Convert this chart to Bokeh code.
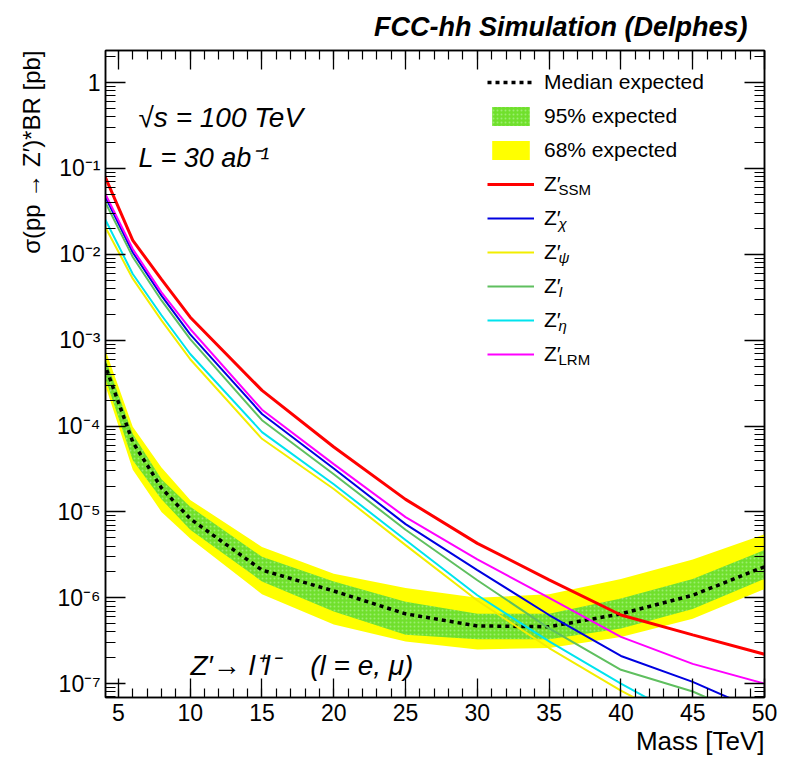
from bokeh.plotting import figure
from bokeh.models import (Range1d, LinearAxis, LogAxis, FixedTicker, SingleIntervalTicker,
                          CustomJSTickFormatter, Legend, LegendItem, Label, Title)
from bokeh.embed import file_html
from bokeh.resources import INLINE

# ---------------- data ----------------
mass = [4, 6, 8, 10, 15, 20, 25, 30, 35, 40, 45, 50]

median_exp = [5.5e-4, 6.5e-5, 1.9e-5, 8.3e-6, 2.1e-6, 1.2e-6, 6.5e-7, 4.7e-7, 4.6e-7, 6.5e-7, 1.07e-6, 2.3e-6]
band_inner_up = [6.7e-4, 8.1e-5, 2.4e-5, 1.15e-5, 3.0e-6, 1.55e-6, 9.0e-7, 6.5e-7, 6.5e-7, 9.8e-7, 1.66e-6, 3.6e-6]
band_inner_lo = [4.0e-4, 4.0e-5, 1.4e-5, 6.2e-6, 1.55e-6, 6.9e-7, 3.7e-7, 3.3e-7, 3.3e-7, 4.4e-7, 7.4e-7, 1.66e-6]
band_outer_up = [8.5e-4, 9.8e-5, 3.3e-5, 1.38e-5, 3.9e-6, 1.9e-6, 1.3e-6, 1.0e-6, 1.1e-6, 1.66e-6, 2.8e-6, 5.5e-6]
band_outer_lo = [3.3e-4, 3.1e-5, 1.0e-5, 4.9e-6, 1.1e-6, 4.9e-7, 3.1e-7, 2.5e-7, 2.6e-7, 3.5e-7, 5.7e-7, 1.26e-6]

xsec_ssm = [0.085, 0.0145, 5.1e-3, 1.85e-3, 2.6e-4, 5.7e-5, 1.4e-5, 4.3e-6, 1.62e-6, 6.3e-7, 3.7e-7, 2.2e-7]
xsec_chi = [0.05, 0.0105, 3.3e-3, 1.17e-3, 1.38e-4, 3.2e-5, 7.2e-6, 2.1e-6, 6.3e-7, 2.1e-7, 1.05e-7, 4.5e-8]
xsec_psi = [0.022, 5.2e-3, 1.7e-3, 6.0e-4, 7.1e-5, 1.85e-5, 4.1e-6, 9.3e-7, 2.6e-7, 8.3e-8, 3.0e-8, 1.0e-8]
xsec_i = [0.043, 9.3e-3, 2.9e-3, 1.03e-3, 1.17e-4, 2.75e-5, 6.2e-6, 1.6e-6, 4.4e-7, 1.45e-7, 8.1e-8, 3.5e-8]
xsec_eta = [0.027, 5.9e-3, 1.95e-3, 6.9e-4, 8.5e-5, 2.1e-5, 4.7e-6, 1.07e-6, 3.1e-7, 1.0e-7, 3.5e-8, 1.2e-8]
xsec_lrm = [0.054, 0.0115, 3.6e-3, 1.35e-3, 1.55e-4, 3.6e-5, 8.7e-6, 2.8e-6, 1.0e-6, 3.5e-7, 1.7e-7, 1.0e-7]

model_subscripts = ["SSM", "χ", "ψ", "I", "η", "LRM"]
model_colors = ["#ff0000", "#0000e0", "#f2ee00", "#5fbf5f", "#00e4ee", "#ff00ff"]

y_ticks = [1e-7, 1e-6, 1e-5, 1e-4, 1e-3, 1e-2, 1e-1, 1.0]
y_tick_labels = ["10⁻⁷", "10⁻⁶", "10⁻⁵", "10⁻⁴", "10⁻³", "10⁻²", "10⁻¹", "1"]

FONT = "Liberation Sans"

# ---------------- figure ----------------
p = figure(width=789, height=758, y_axis_type="log",
           x_range=Range1d(4.1, 50), y_range=Range1d(6.9e-8, 2.36),
           output_backend="svg", toolbar_location=None,
           min_border_left=105, min_border_right=25, min_border_top=48, min_border_bottom=61)
p.grid.visible = False
p.outline_line_color = "black"
p.outline_line_width = 1.5
p.background_fill_color = "white"
p.border_fill_color = "white"

p.title = Title(text="FCC-hh Simulation (Delphes)", align="right", offset=17, standoff=18,
                text_font=FONT, text_font_size="27px", text_font_style="bold italic",
                text_color="black")

xt = SingleIntervalTicker(interval=5, num_minor_ticks=5)
yt = FixedTicker(ticks=y_ticks,
                 minor_ticks=[k * 10.0 ** e for e in range(-8, 1) for k in range(2, 10)])
yfmt = CustomJSTickFormatter(args=dict(tvals=y_ticks, tlabels=y_tick_labels), code="""
for (let i = 0; i < tvals.length; i++) {
  if (Math.abs(Math.log10(tick) - Math.log10(tvals[i])) < 1e-6) return tlabels[i];
}
return "";
""")
blank_fmt = CustomJSTickFormatter(code="return '';")

def style_axis(ax, major, minor, show_labels=True):
    ax.axis_line_color = "black"
    ax.axis_line_width = 1.5
    ax.major_tick_in = major
    ax.major_tick_out = 0
    ax.minor_tick_in = minor
    ax.minor_tick_out = 0
    ax.major_tick_line_width = 1.3
    ax.minor_tick_line_width = 1.2
    ax.major_tick_line_color = "black"
    ax.minor_tick_line_color = "black"
    ax.major_label_text_font = FONT
    ax.major_label_text_color = "black"
    ax.major_label_text_font_size = "23px"
    if not show_labels:
        ax.formatter = blank_fmt
        ax.major_label_standoff = 0

p.xaxis.ticker = xt
style_axis(p.xaxis[0], 19, 9)
p.xaxis.major_label_standoff = 6
p.yaxis.ticker = yt
p.yaxis.formatter = yfmt
style_axis(p.yaxis[0], 20, 10)
p.yaxis.major_label_standoff = 5

top_ax = LinearAxis(ticker=xt)
style_axis(top_ax, 19, 9, show_labels=False)
p.add_layout(top_ax, "above")
right_ax = LogAxis(ticker=yt)
style_axis(right_ax, 20, 10, show_labels=False)
p.add_layout(right_ax, "right")

# axis titles (ROOT style: aligned to the end of the axis)
p.add_layout(Title(text="Mass [TeV]", align="right", offset=0, standoff=0, text_color="black",
                   text_font=FONT, text_font_size="26px", text_font_style="normal"), "below")
p.add_layout(Title(text="σ(pp → Z′)*BR [pb]", align="right", offset=0, standoff=19, text_color="black",
                   text_font=FONT, text_font_size="24px", text_font_style="normal"), "left")

# ---------------- bands and lines ----------------
r_outer = p.varea(x=mass, y1=band_outer_lo, y2=band_outer_up, fill_color="#ffff00")
r_inner = p.varea(x=mass, y1=band_inner_lo, y2=band_inner_up, fill_color="#70e02c",
                  hatch_pattern=".", hatch_color="#b9f59c", hatch_scale=4, hatch_alpha=0.6)
r_med = p.line(mass, median_exp, line_color="black", line_width=3.5, line_dash="4 4")

series = [xsec_ssm, xsec_chi, xsec_psi, xsec_i, xsec_eta, xsec_lrm]
widths = [3, 2, 2, 2, 2, 2]
model_renderers = []
for ys, c, w in zip(series, model_colors, widths):
    model_renderers.append(p.line(mass, ys, line_color=c, line_width=w))

items = [LegendItem(label="Median expected", renderers=[r_med]),
         LegendItem(label="95% expected", renderers=[r_inner]),
         LegendItem(label="68% expected", renderers=[r_outer])]
for r in model_renderers:
    items.append(LegendItem(label="Z′", renderers=[r]))

ROW_H, ROW_GAP = 24, 10
legend = Legend(items=items, location=(382, 331), padding=0, margin=0, spacing=ROW_GAP,
                glyph_width=47, glyph_height=ROW_H, label_height=ROW_H, label_standoff=10,
                label_text_font=FONT, label_text_font_size="21px", label_text_color="black",
                background_fill_alpha=0, border_line_alpha=0)
p.add_layout(legend)

# subscripts of the Z' legend labels (screen units, relative to the frame)
frame_h = 649
legend_top = 19  # px below frame top
for i, sub in enumerate(model_subscripts):
    row = 3 + i
    cy = legend_top + ROW_H / 2 + row * (ROW_H + ROW_GAP) + 8
    p.add_layout(Label(x=453, y=frame_h - cy, x_units="screen", y_units="screen", text=sub,
                       text_font=FONT, text_font_size="15px", text_baseline="middle",
                       text_color="black",
                       text_font_style="italic" if sub in ("χ", "ψ", "η", "I") else "normal"))

# ---------------- texts inside the frame ----------------
def add_text(x, y, text, size, style="italic"):
    p.add_layout(Label(x=x, y=y, x_units="screen", y_units="screen", text=text,
                       text_font=FONT, text_font_size=size, text_font_style=style,
                       text_color="black", text_align="left", text_baseline="alphabetic"))

add_text(33, 580, "√s = 100 TeV", "28px")
add_text(33, 540, "L = 30 ab⁻¹", "27px")
add_text(85, 32, "Z′→ l⁺l⁻\u00a0\u00a0\u00a0\u00a0(l = e, μ)", "28px")

open("out.html", "w").write(file_html(p, INLINE))
